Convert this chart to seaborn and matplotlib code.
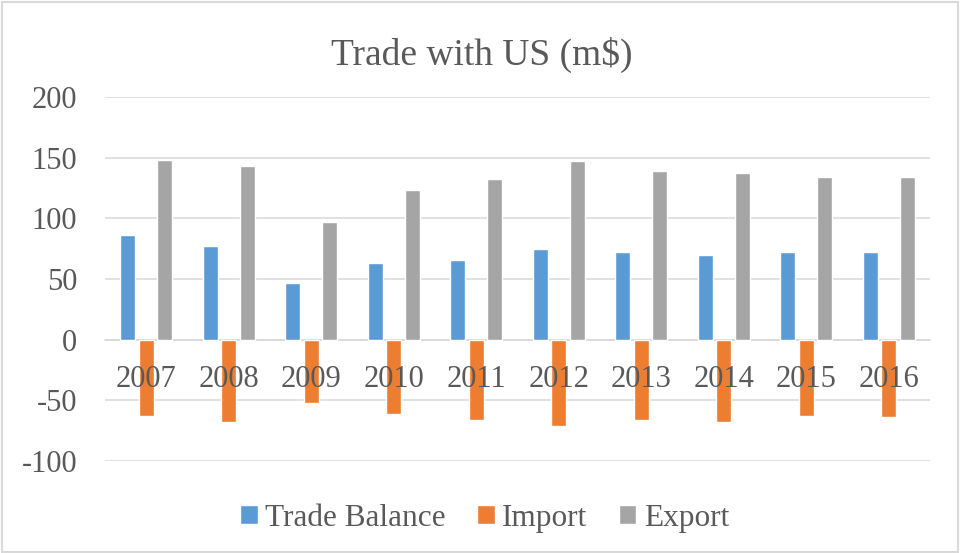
"""
Trade with US (m$) - grouped bar chart, Excel style.
"""

import matplotlib
matplotlib.use("Agg")
import matplotlib.pyplot as plt
import seaborn as sns
import pandas as pd
from matplotlib.patches import Rectangle

# Data (m$)
years = ["2007", "2008", "2009", "2010", "2011", "2012", "2013", "2014", "2015", "2016"]
trade_balance = [86, 77, 47, 63, 66, 75, 72, 70, 72, 72]
imports = [-63, -68, -52, -61, -66, -71, -66, -68, -63, -64]
exports = [148, 143, 97, 123, 132, 147, 139, 137, 134, 134]
series = ["Trade Balance", "Import", "Export"]
colors = ["#5B9BD5", "#ED7D31", "#A5A5A5"]
y_ticks = [-100, -50, 0, 50, 100, 150, 200]

TEXT = "#595959"
GRID = "#D9D9D9"

df = pd.DataFrame({
    "year": years * 3,
    "value": trade_balance + imports + exports,
    "series": [s for s in series for _ in years],
})

sns.set_theme(style="white")
plt.rcParams["font.family"] = ["Liberation Serif", "DejaVu Serif"]
plt.rcParams["axes.unicode_minus"] = False

fig = plt.figure(figsize=(9.6, 5.53), dpi=100)
ax = fig.add_axes([0.1094, 0.1664, 0.8594, 0.6582])

sns.barplot(data=df, x="year", y="value", hue="series", hue_order=series,
            palette=colors, order=years, width=0.67, gap=0.2,
            saturation=1, ax=ax, legend=True)

ax.set_ylim(-100, 200)
ax.set_yticks(y_ticks)
ax.set_xlim(-0.5, len(years) - 0.5)
ax.set_xlabel("")
ax.set_ylabel("")

ax.yaxis.grid(True, color=GRID, linewidth=1.1)
ax.set_axisbelow(True)
# year labels sit on top of the import bars, as in Excel
ax.xaxis.set_zorder(5)

for side in ["top", "right", "left"]:
    ax.spines[side].set_visible(False)
ax.spines["bottom"].set_position(("data", 0))
ax.spines["bottom"].set_color(GRID)
ax.spines["bottom"].set_linewidth(1.1)
ax.spines["bottom"].set_zorder(0.6)

ax.tick_params(axis="x", length=0, pad=18, labelsize=22, labelcolor=TEXT)
ax.tick_params(axis="y", length=0, pad=20, labelsize=22, labelcolor=TEXT)

# Legend at the bottom
handles, labels = ax.get_legend_handles_labels()
ax.legend_.remove()
fig.legend(handles, labels, loc="center", bbox_to_anchor=(0.505, 0.063),
           ncol=3, frameon=False, fontsize=22.5, labelcolor=TEXT,
           handlelength=0.55, handleheight=0.55, handletextpad=0.25,
           columnspacing=1.0, borderaxespad=0)

# Title
fig.text(0.502, 0.8825, "Trade with US (m$)", ha="center", va="baseline",
         fontsize=27, color=TEXT)

# Chart area border
fig.patches.append(Rectangle((0.002, 0.002), 0.996, 0.995, transform=fig.transFigure,
                             fill=False, edgecolor=GRID, linewidth=1.5))

fig.savefig("out.png", dpi=100)
plt.close(fig)
